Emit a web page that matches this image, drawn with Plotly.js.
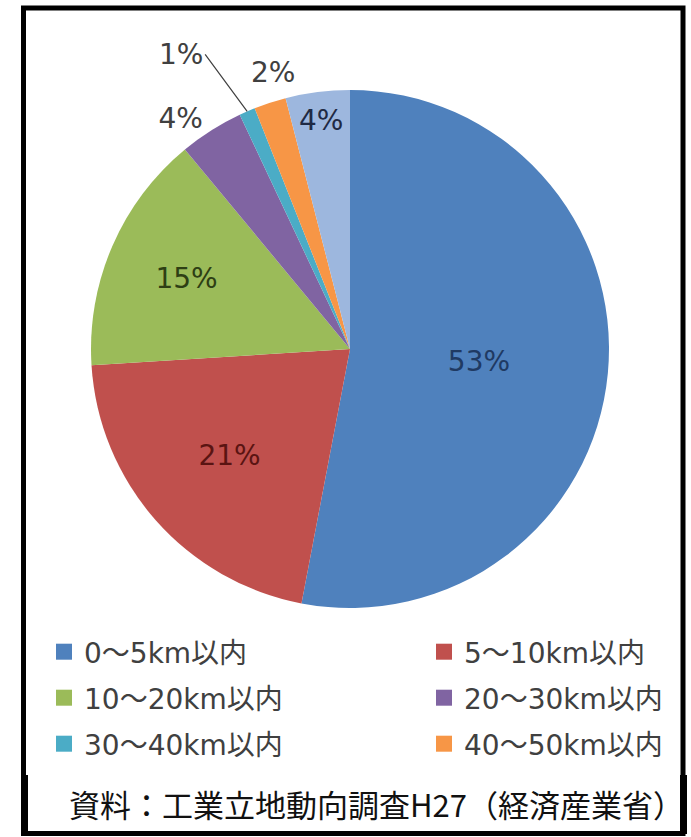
<!DOCTYPE html>
<html>
<head>
<meta charset="utf-8">
<script src="https://cdn.plot.ly/plotly-3.0.1.min.js"></script>
<style>
  html, body { margin: 0; padding: 0; background: #ffffff; }
  #chart { width: 691px; height: 837px; }
</style>
</head>
<body>
<div id="chart"></div>
<script>
// Distance bands from a new factory site to the head office (share, %)
const categories = ['0～5km以内', '5～10km以内', '10～20km以内', '20～30km以内', '30～40km以内', '40～50km以内', '50km超'];
const shares = [53, 21, 15, 4, 1, 2, 4];
const sliceColors = ['#4F81BD', '#C0504D', '#9BBB59', '#8064A2', '#4BACC6', '#F79646', '#9DB7DE'];
const labelColors = ['#1F3A63', '#5A1412', '#2E3F14', '#404040', '#404040', '#404040', '#1F2A44'];
// the two thinnest slices are labelled by annotations placed off their arcs
const labelPlacement = ['inside', 'inside', 'inside', 'outside', 'none', 'none', 'inside'];
const sourceNote = '資料：工業立地動向調査H27（経済産業省）';

const W = 691, H = 837;
const px = v => v / W;
const py = v => 1 - v / H;

const labelFont = 'DejaVu Sans, Noto Sans CJK JP, sans-serif';

// pie placement in pixels
const pieLeft = 90, pieRight = 610, pieTop = 90, pieBottom = 608;
const cx = (pieLeft + pieRight) / 2, cy = (pieTop + pieBottom) / 2;
const radius = Math.min(pieRight - pieLeft, pieBottom - pieTop) / 2;

const pie = {
  type: 'pie',
  labels: categories,
  values: shares,
  sort: false,
  direction: 'clockwise',
  rotation: 0,
  marker: { colors: sliceColors, line: { width: 0 } },
  texttemplate: '%{value}%',
  textposition: labelPlacement,
  insidetextorientation: 'horizontal',
  textfont: { family: labelFont, size: 28, color: labelColors },
  outsidetextfont: { family: labelFont, size: 28, color: '#404040' },
  automargin: false,
  showlegend: false,
  hoverinfo: 'label+percent',
  domain: { x: [px(pieLeft), px(pieRight)], y: [py(pieBottom), py(pieTop)] }
};

// point on the rim at the middle of slice i
const total = shares.reduce((a, b) => a + b, 0);
function rimPoint(i) {
  const before = shares.slice(0, i).reduce((a, b) => a + b, 0);
  const a = (before + shares[i] / 2) / total * 2 * Math.PI;
  return { x: cx + radius * Math.sin(a), y: cy - radius * Math.cos(a) };
}
const teal = rimPoint(4);
const orange = rimPoint(5);

// Legend: one small legend per band, laid out two per row
const legendSlots = [
  { x: 44, y: 652 }, { x: 424, y: 652 },
  { x: 44, y: 698 }, { x: 424, y: 698 },
  { x: 44, y: 744 }, { x: 424, y: 744 }
];
const legendIds = legendSlots.map((s, i) => i === 0 ? 'legend' : 'legend' + (i + 1));
const swatches = categories.slice(0, 6).map((name, i) => ({
  type: 'scatter',
  mode: 'markers',
  x: [null], y: [null],
  name: name,
  marker: { symbol: 'square', size: 16, color: sliceColors[i] },
  legend: legendIds[i],
  hoverinfo: 'skip'
}));

const layout = {
  width: W, height: H,
  margin: { l: 0, r: 0, t: 0, b: 0 },
  paper_bgcolor: '#ffffff',
  plot_bgcolor: '#ffffff',
  xaxis: { visible: false, range: [0, 1] },
  yaxis: { visible: false, range: [0, 1] },
  shapes: [
    { type: 'rect', xref: 'paper', yref: 'paper',
      x0: px(23.5), x1: px(683), y0: py(833.5), y1: py(8),
      line: { color: '#000000', width: 5 } },
    { type: 'line', xref: 'paper', yref: 'paper',
      x0: px(24.5), x1: px(24.5), y0: py(834), y1: py(775),
      line: { color: '#000000', width: 7 } },
    { type: 'line', xref: 'paper', yref: 'paper',
      x0: px(683.5), x1: px(683.5), y0: py(834), y1: py(775),
      line: { color: '#000000', width: 7 } }
  ],
  annotations: [
    { xref: 'paper', yref: 'paper', x: px(teal.x), y: py(teal.y),
      showarrow: true, arrowhead: 0, arrowwidth: 1.2, arrowcolor: '#404040',
      axref: 'pixel', ayref: 'pixel', ax: -42, ay: -57,
      xanchor: 'right', yanchor: 'middle',
      text: shares[4] + '%',
      font: { family: labelFont, size: 28, color: '#404040' } },
    { xref: 'paper', yref: 'paper', x: px(orange.x), y: py(orange.y),
      showarrow: false, xanchor: 'center', yanchor: 'bottom', xshift: 3, yshift: 12,
      text: shares[5] + '%',
      font: { family: labelFont, size: 28, color: '#404040' } },
    { xref: 'paper', yref: 'paper', x: px(377), y: py(803),
      xanchor: 'center', yanchor: 'middle', showarrow: false,
      text: sourceNote,
      font: { family: 'Noto Sans CJK JP, sans-serif', size: 31, color: '#111111' } }
  ]
};

legendSlots.forEach((s, i) => {
  layout[legendIds[i]] = {
    orientation: 'h',
    xanchor: 'left', yanchor: 'middle',
    x: px(s.x), y: py(s.y),
    font: { family: labelFont, size: 28, color: '#404040' },
    bgcolor: 'rgba(0,0,0,0)',
    itemclick: false, itemdoubleclick: false
  };
});

Plotly.newPlot('chart', [pie].concat(swatches), layout, { displayModeBar: false, staticPlot: true });
</script>
</body>
</html>
